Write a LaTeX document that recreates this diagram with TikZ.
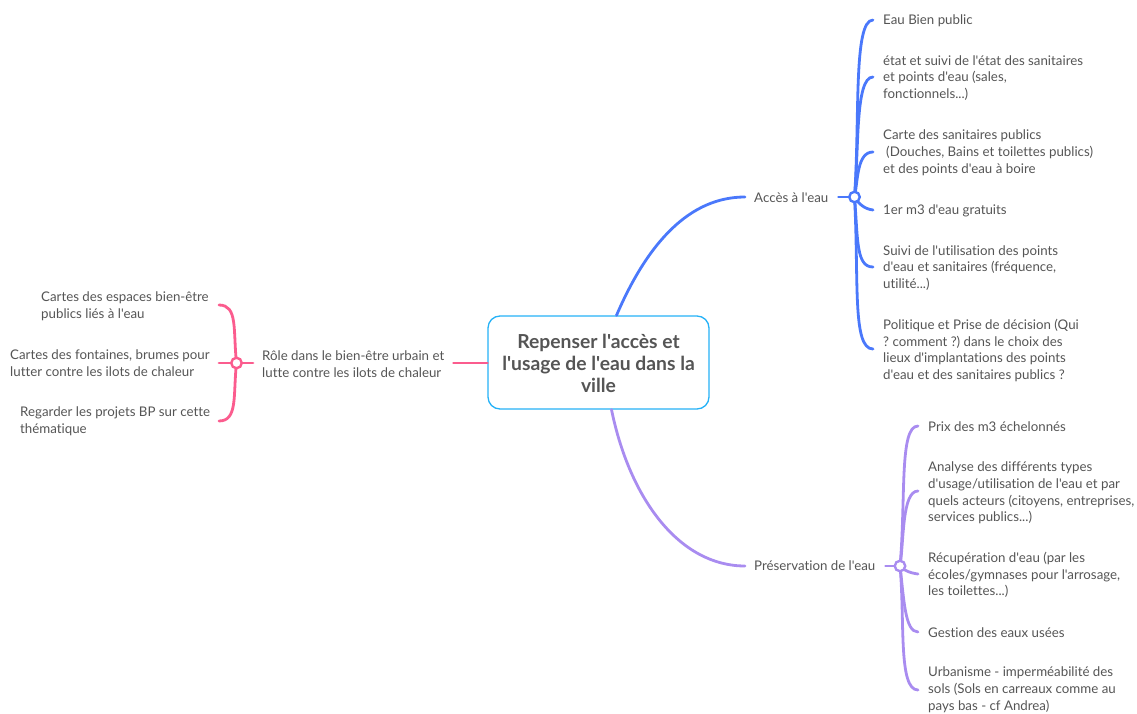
\documentclass[tikz,border=0pt]{standalone}
\usepackage{fontspec}
\newfontfamily\leaffont[Ligatures=NoCommon]{Lato}
\definecolor{bl}{HTML}{4A78FB}
\definecolor{pk}{HTML}{FB5C8E}
\definecolor{pu}{HTML}{A98CF0}
\definecolor{rootc}{HTML}{25B2F7}
\definecolor{tx}{HTML}{555555}
\tikzset{
  leaf/.style={anchor=west,inner sep=0pt,align=left,text=tx,font=\leaffont\fontsize{13.3}{16.8}\selectfont\frenchspacing},
  rootbox/.style={draw=rootc,line width=1.3pt,rounded corners=12pt,fill=white,minimum width=221pt,minimum height=93pt,inner sep=0pt,text=tx,font=\leaffont\bfseries\fontsize{19.3}{22.3}\selectfont},
  hub/.style={circle,draw=#1,line width=2.4pt,fill=white,minimum size=10.5pt,inner sep=0pt},
  link/.style={draw=#1,line width=2.8pt,line cap=round},
}
\begin{document}
\begin{tikzpicture}[x=1pt,y=-1pt]
\useasboundingbox (0,0) rectangle (1137,714);
\node[rootbox] (root) at (598.5,362.5) {\raisebox{-8.6pt}[0pt][0pt]{\begin{tabular}{@{}c@{}}Repenser l'accès et\\l'usage de l'eau dans la\\ville\end{tabular}}};
% Blue
\node[leaf] (acc) at (754,198) {Accès à l'eau};
\node[leaf] (a1) at (883,21) {Eau Bien public};
\node[leaf] (a2) at (883,78) {état et suivi de l'état des sanitaires\\et points d'eau (sales,\\fonctionnels...)};
\node[leaf] (a3) at (883,153) {Carte des sanitaires publics\\\hspace*{3pt}(Douches, Bains et toilettes publics)\\et des points d'eau à boire};
\node[leaf] (a4) at (883,211) {1er m3 d'eau gratuits};
\node[leaf] (a5) at (883,268) {Suivi de l'utilisation des points\\d'eau et sanitaires (fréquence,\\utilité...)};
\node[leaf] (a6) at (883,350.5) {Politique et Prise de décision (Qui\\? comment ?) dans le choix des\\lieux d'implantations des points\\d'eau et des sanitaires publics ?};
\coordinate (hubA) at (854.5,197);
\draw[link=bl] ([xshift=18pt]root.north) .. controls (648,242) and (690,197) .. ([xshift=-9pt,yshift=1pt]acc.west);
\draw[link=bl] ([xshift=10pt,yshift=1pt]acc.east) -- (hubA);
\draw[link=bl] (hubA) .. controls (860,120) and (853,20) .. ([xshift=-10pt,yshift=1pt]a1.west);
\draw[link=bl] (hubA) .. controls (859,150) and (855,77) .. ([xshift=-10pt,yshift=1pt]a2.west);
\draw[link=bl] (hubA) .. controls (858,180) and (857,152) .. ([xshift=-10pt,yshift=1pt]a3.west);
\draw[link=bl] (hubA) .. controls (858,203) and (864,209) .. ([xshift=-10pt,yshift=1pt]a4.west);
\draw[link=bl] (hubA) .. controls (858,240) and (856,267) .. ([xshift=-10pt,yshift=1pt]a5.west);
\draw[link=bl] (hubA) .. controls (859,280) and (852,349) .. ([xshift=-10pt,yshift=1.5pt]a6.west);
\node[hub=bl] (hA) at (hubA) {};
% Purple
\node[leaf] (pre) at (754,566) {Préservation de l'eau};
\node[leaf] (p1) at (928,427) {Prix des m3 échelonnés};
\node[leaf] (p2) at (928,493) {Analyse des différents types\\d'usage/utilisation de l'eau et par\\quels acteurs (citoyens, entreprises,\\services publics...)};
\node[leaf] (p3) at (928,575) {Récupération d'eau (par les\\écoles/gymnases pour l'arrosage,\\les toilettes...)};
\node[leaf] (p4) at (928,633) {Gestion des eaux usées};
\node[leaf] (p5) at (928,690) {Urbanisme - imperméabilité des\\sols (Sols en carreaux comme au\\pays bas - cf Andrea)};
\coordinate (hubP) at (900,566);
\draw[link=pu] ([xshift=13pt]root.south) .. controls (630,500) and (680,566) .. ([xshift=-9pt]pre.west);
\draw[link=pu] ([xshift=10pt]pre.east) -- (hubP);
\draw[link=pu] (hubP) .. controls (906,500) and (899,426) .. ([xshift=-10pt,yshift=1pt]p1.west);
\draw[link=pu] (hubP) .. controls (904,540) and (902,491) .. ([xshift=-10pt,yshift=2pt]p2.west);
\draw[link=pu] (hubP) .. controls (903,570) and (910,573) .. ([xshift=-10pt,yshift=1pt]p3.west);
\draw[link=pu] (hubP) .. controls (904,600) and (905,632) .. ([xshift=-10pt,yshift=1pt]p4.west);
\draw[link=pu] (hubP) .. controls (905,620) and (898,690) .. ([xshift=-10pt]p5.west);
\node[hub=pu] (hP) at (hubP) {};
% Pink
\node[leaf] (rol) at (262,364) {Rôle dans le bien-être urbain et\\lutte contre les ilots de chaleur};
\node[leaf] (k1) at (41,306) {Cartes des espaces bien-être\\publics liés à l'eau};
\node[leaf] (k2) at (10,363.5) {Cartes des fontaines, brumes pour\\lutter contre les ilots de chaleur};
\node[leaf] (k3) at (20,421) {Regarder les projets BP sur cette\\thématique};
\coordinate (hubK) at (236.5,363);
\coordinate (k1e) at (219,305);
\coordinate (k2e) at (219,363);
\coordinate (k3e) at (219,421);
\draw[link=pk] ([yshift=-.5pt]root.west) -- ([xshift=9pt,yshift=1pt]rol.east);
\draw[link=pk] ([xshift=-9pt,yshift=1pt]rol.west) -- (hubK);
\draw[link=pk] (hubK) .. controls (233,330) and (238,305) .. (k1e);
\draw[link=pk] (hubK) -- (k2e);
\draw[link=pk] (hubK) .. controls (233,395) and (238,421) .. (k3e);
\node[hub=pk] (hK) at (hubK) {};
\end{tikzpicture}
\end{document}
